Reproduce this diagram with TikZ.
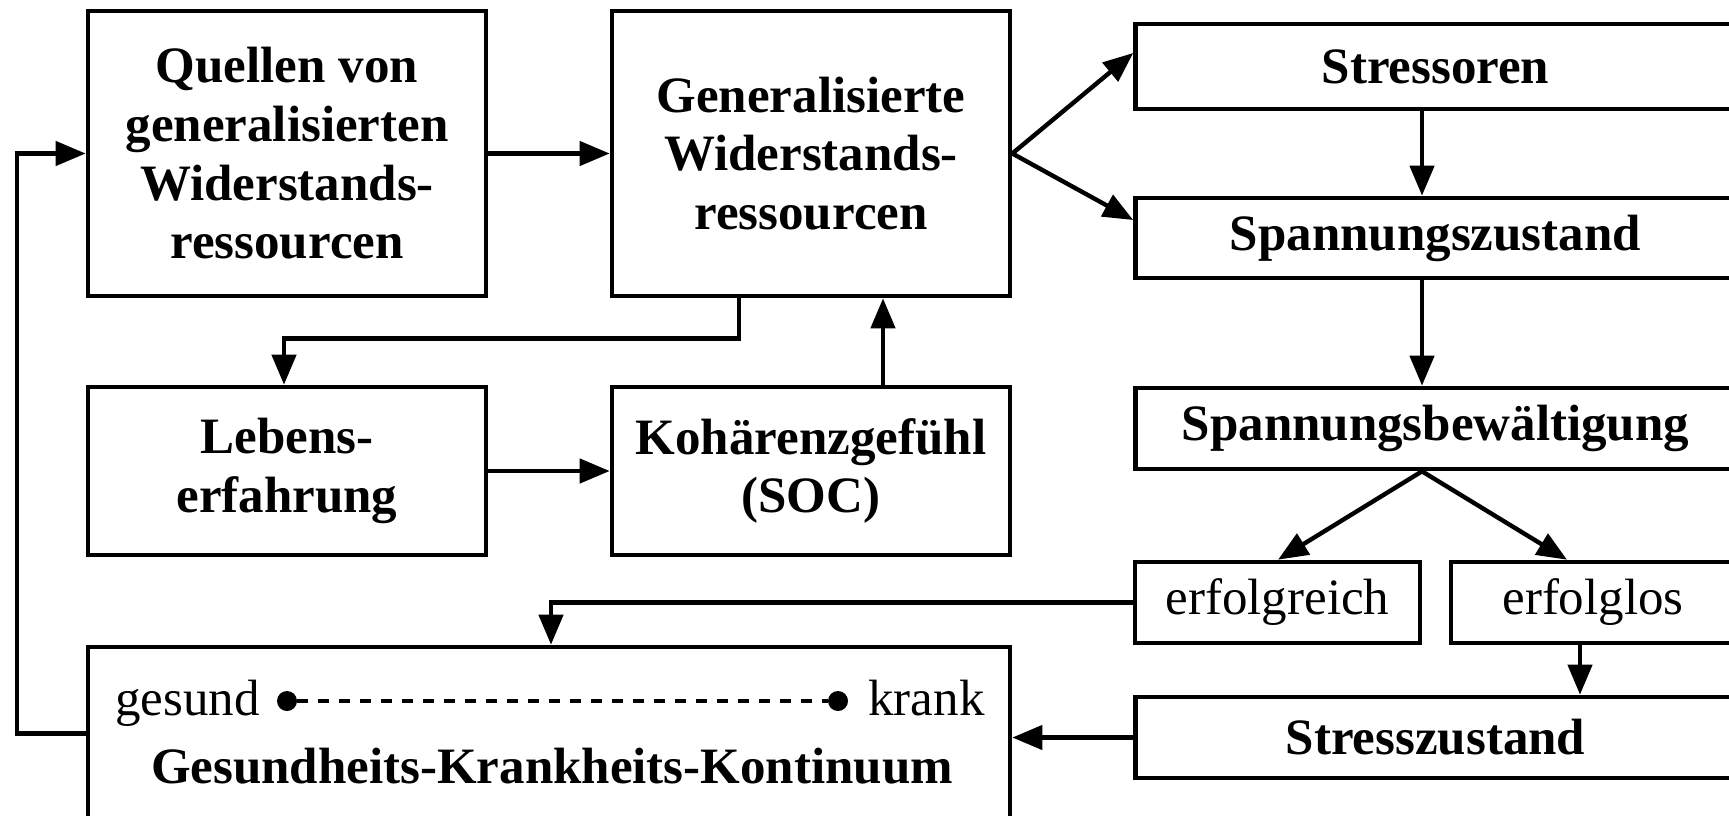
\documentclass[tikz,border=0pt]{standalone}
\usepackage{fontspec}
\setmainfont{Liberation Serif}
\usetikzlibrary{arrows.meta}
\begin{document}
\begin{tikzpicture}[x=0.5pt,y=-0.5pt,
  box/.style={draw,line width=2.3pt,inner sep=0pt,align=center,
    font=\fontsize{25.5}{29.3}\selectfont\bfseries},
  plainbox/.style={box,font=\fontsize{25.5}{29.3}\selectfont},
  arr/.style={line width=2.2pt,-{Triangle[length=15pt,width=12pt]}},
  dotline/.style={line width=2.4pt,dash pattern=on 5.25pt off 5.25pt},
  lbl/.style={inner sep=0pt,font=\fontsize{25.5}{29.3}\selectfont,anchor=base}]
\useasboundingbox (0,0) rectangle (1729,815);
\clip (0,0) rectangle (1729,815);
% boxes
\node[box,minimum width=199pt,minimum height=142.5pt] (Q) at (287,153.5)
  {Quellen von\\generalisierten\\Widerstands-\\ressourcen};
\node[box,minimum width=199pt,minimum height=142.5pt] (G) at (811,153.5)
  {Generalisierte\\Widerstands-\\ressourcen};
\node[box,minimum width=199pt,minimum height=84pt] (L) at (287,471)
  {Lebens-\\erfahrung};
\node[box,minimum width=199pt,minimum height=84pt] (K) at (811,471)
  {Kohärenzgefühl\\(SOC)};
\node[box,minimum width=461pt,minimum height=86.5pt] (GK) at (549,733.5) {};
\node[box,minimum width=300pt,minimum height=42.5pt] (S1) at (1435.5,66.5) {Stressoren};
\node[box,minimum width=300pt,minimum height=40pt] (S2) at (1435.5,238) {Spannungszustand};
\node[box,minimum width=300pt,minimum height=40.5pt] (S3) at (1435.5,428.5) {Spannungsbewältigung};
\node[plainbox,minimum width=142.5pt,minimum height=40.5pt] (E1) at (1277.5,602.5) {erfolgreich};
\node[plainbox,minimum width=142pt,minimum height=40.5pt] (E2) at (1593,602.5) {erfolglos};
\node[box,minimum width=300pt,minimum height=40.5pt] (SZ) at (1435.5,737.5) {Stresszustand};
% continuum contents
\node[lbl,anchor=base east] (ges) at (260,715) {gesund};
\node[lbl,anchor=base west] (kra) at (868,715) {krank};
\node[circle,fill,inner sep=0pt,minimum size=10pt] (d1) at (287,701) {};
\node[circle,fill,inner sep=0pt,minimum size=10pt] (d2) at (838,701) {};
\draw[dotline] (d1) -- (d2);
\node[lbl,font=\fontsize{25.5}{29.3}\selectfont\bfseries] (gkt) at (552,783)
  {Gesundheits-Krankheits-Kontinuum};
% helper coordinates
\coordinate (y53) at (0,53);
\coordinate (y220) at (0,220);
\coordinate (xl) at (17,0);
% connectors
\draw[arr] (Q.east) -- (G.west);
\draw[arr] (GK.west) -- (GK.west -| xl) |- (Q.west);
\draw[arr] (G.east) -- (S1.west |- y53);
\draw[arr] (G.east) -- (S2.west |- y220);
\draw[arr] ([xshift=-6.75pt]S1.south) -- ([xshift=-6.75pt]S2.north);
\draw[arr] ([xshift=-6.75pt]S2.south) -- ([xshift=-6.75pt]S3.north);
\draw[arr] ([xshift=-6.75pt]S3.south) -- ([xshift=0.25pt]E1.north);
\draw[arr] ([xshift=-6.75pt]S3.south) -- ([xshift=-13pt]E2.north);
\draw[arr] ([xshift=-6.5pt]E2.south) -- ([xshift=-6.5pt]E2.south |- SZ.north);
\draw[arr] (E1.west) -| ([xshift=1pt]GK.north);
\draw[arr] (SZ.west) -- (SZ.west -| GK.east);
\draw[arr] ([xshift=-36pt]G.south) -- ++(0,40) -| ([xshift=-1.5pt]L.north);
\draw[arr] ([xshift=36pt]K.north) -- ([xshift=36pt]G.south);
\draw[arr] (L.east) -- (K.west);
\end{tikzpicture}
\end{document}
